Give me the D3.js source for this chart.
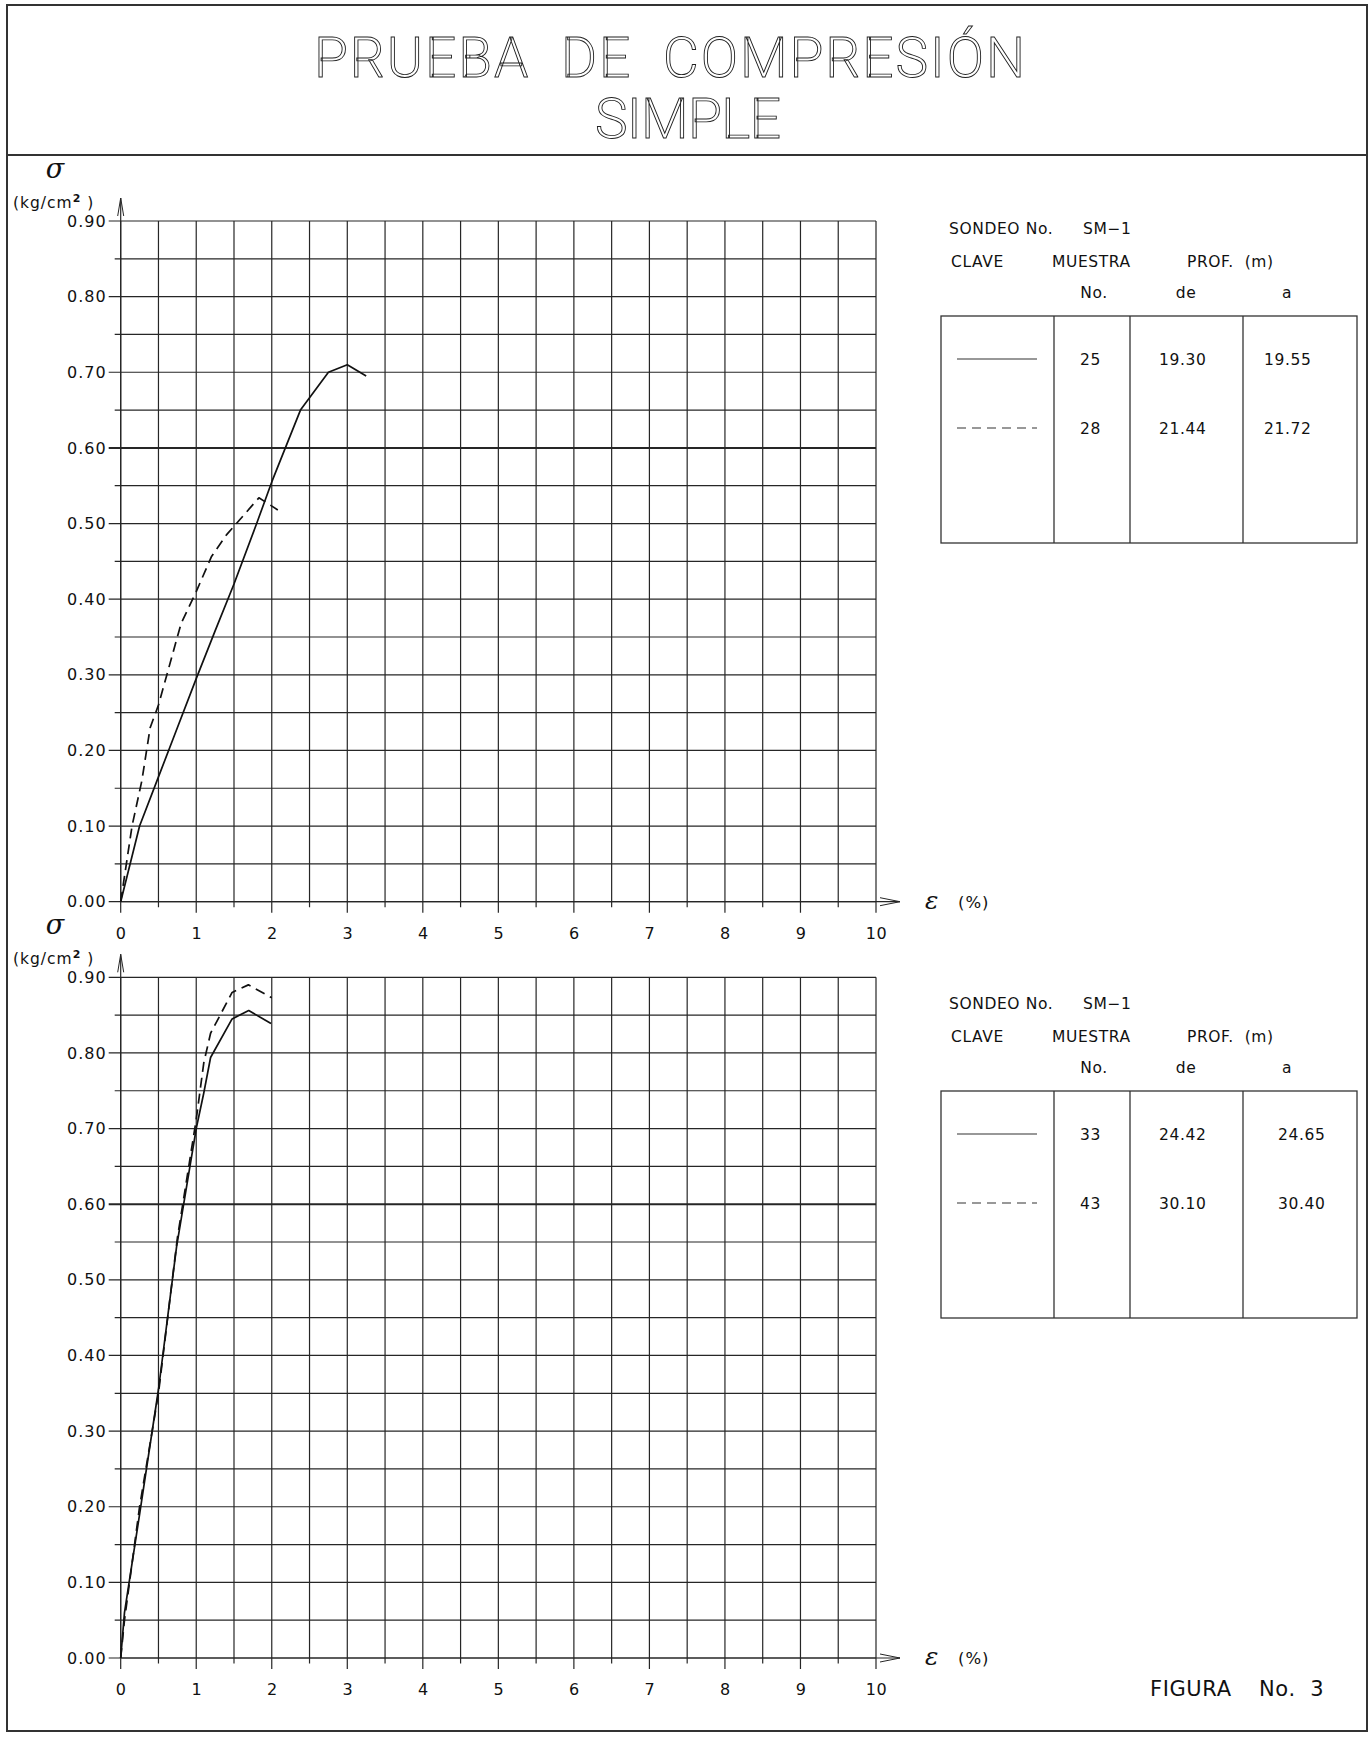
<!DOCTYPE html>
<html>
<head>
<meta charset="utf-8">
<script src="https://cdn.jsdelivr.net/npm/d3@7/dist/d3.min.js"></script>
<style>
  html, body { margin: 0; padding: 0; background: #fff; }
  svg { display: block; }
  text { white-space: pre; }
  .lbl { font-family: "DejaVu Sans", sans-serif; fill: #111; }
</style>
</head>
<body>
<svg id="chart" width="1372" height="1737"></svg>
<script>
// ---- Data -------------------------------------------------------------
const titleLines = ["PRUEBA  DE  COMPRESIÓN", "SIMPLE"];

const strainTicks = [0, 1, 2, 3, 4, 5, 6, 7, 8, 9, 10];
const stressTicks = [0, 0.1, 0.2, 0.3, 0.4, 0.5, 0.6, 0.7, 0.8, 0.9];

// Sample 25 (19.30 - 19.55 m): [strain %, stress kg/cm2]
const sample25 = [[0, 0], [0.25, 0.10], [0.5, 0.165], [0.75, 0.23], [1.0, 0.295],
  [1.25, 0.358], [1.5, 0.42], [1.8, 0.50], [2.0, 0.555], [2.18, 0.60],
  [2.38, 0.65], [2.75, 0.70], [3.0, 0.71], [3.25, 0.695]];
// Sample 28 (21.44 - 21.72 m)
const sample28 = [[0, 0], [0.15, 0.10], [0.28, 0.16], [0.39, 0.23], [0.5, 0.26],
  [0.8, 0.368], [1.0, 0.41], [1.2, 0.456], [1.4, 0.485], [1.83, 0.534], [2.08, 0.518]];
// Sample 33 (24.42 - 24.65 m)
const sample33 = [[0, 0], [0.05, 0.06], [0.25, 0.19], [0.5, 0.355], [0.74, 0.544],
  [1.0, 0.70], [1.1, 0.747], [1.19, 0.794], [1.475, 0.845], [1.695, 0.856], [1.99, 0.839]];
// Sample 43 (30.10 - 30.40 m)
const sample43 = [[0, 0], [0.05, 0.05], [0.25, 0.20], [0.5, 0.35], [0.75, 0.555],
  [1.0, 0.712], [1.1, 0.787], [1.19, 0.826], [1.475, 0.88], [1.69, 0.89], [2.0, 0.873]];

const boring = "SM−1";
const tableTopRows = [
  { series: sample25, dashed: false, muestra: "25", de: "19.30", a: "19.55" },
  { series: sample28, dashed: true,  muestra: "28", de: "21.44", a: "21.72" }
];
const tableBottomRows = [
  { series: sample33, dashed: false, muestra: "33", de: "24.42", a: "24.65" },
  { series: sample43, dashed: true,  muestra: "43", de: "30.10", a: "30.40" }
];

// ---- Drawing ----------------------------------------------------------
const svg = d3.select("#chart");
const ink = "#111";
const gridInk = "#262626";

// sheet frame and title block
svg.append("rect").attr("x", 7).attr("y", 5).attr("width", 1360).attr("height", 1726)
  .attr("fill", "#fff").attr("stroke", "#333").attr("stroke-width", 2);
svg.append("line").attr("x1", 7).attr("x2", 1367).attr("y1", 155).attr("y2", 155)
  .attr("stroke", "#333").attr("stroke-width", 2);

const titleSpec = [
  { text: titleLines[0], x: 314, y: 77, len: 711 },
  { text: titleLines[1], x: 595, y: 138, len: 186 }
];
titleSpec.forEach(t => {
  svg.append("text")
    .attr("x", t.x).attr("y", t.y)
    .attr("textLength", t.len).attr("lengthAdjust", "spacing")
    .attr("font-family", "Roboto, 'DejaVu Sans', sans-serif")
    .attr("font-weight", 300)
    .attr("font-size", 55)
    .attr("fill", "#fff").attr("stroke", "#222").attr("stroke-width", 0.9)
    .text(t.text);
});

const x = d3.scaleLinear().domain([0, 10]).range([120.7, 876]);

function drawPanel(y0, y90, seriesRows, boxTop) {
  const y = d3.scaleLinear().domain([0, 0.9]).range([y0, y90]);
  const g = svg.append("g");

  // grid: half-unit strain lines, 0.05 stress lines
  const vLines = d3.range(0, 10.001, 0.5);
  const hLines = d3.range(0, 0.9001, 0.05);
  g.selectAll(".vg").data(vLines).join("line")
    .attr("x1", d => x(d)).attr("x2", d => x(d))
    .attr("y1", y(0.9)).attr("y2", d => y(0) + (Math.abs(d - Math.round(d)) < 1e-6 ? 11 : 5.5))
    .attr("stroke", gridInk).attr("stroke-width", 1.2);
  g.selectAll(".hg").data(hLines).join("line")
    .attr("x1", d => x(0) - (Math.abs(d * 10 - Math.round(d * 10)) < 1e-6 ? 12 : 6))
    .attr("x2", x(10))
    .attr("y1", d => y(d)).attr("y2", d => y(d))
    .attr("stroke", gridInk)
    .attr("stroke-width", d => Math.abs(d - 0.6) < 1e-6 ? 2 : 1.2);

  // axis labels via d3 axes
  const yAxis = d3.axisLeft(y).tickValues(stressTicks).tickFormat(d3.format(".2f"))
    .tickSize(0).tickPadding(14);
  const ya = g.append("g").attr("transform", `translate(${x(0)},0)`).call(yAxis);
  ya.select(".domain").remove();
  ya.selectAll("text").attr("font-family", "DejaVu Sans, sans-serif")
    .attr("font-size", 16).attr("letter-spacing", 1).attr("fill", ink);

  const xAxis = d3.axisBottom(x).tickValues(strainTicks).tickFormat(d3.format("d"))
    .tickSize(0).tickPadding(26);
  const xa = g.append("g").attr("transform", `translate(0,${y0})`).call(xAxis);
  xa.select(".domain").remove();
  xa.selectAll("text").attr("font-family", "DejaVu Sans, sans-serif")
    .attr("font-size", 16).attr("letter-spacing", 0.5).attr("fill", ink);

  // axis arrows
  const tipY = y(0.9) - 23;
  g.append("line").attr("x1", x(0)).attr("x2", x(0)).attr("y1", y(0)).attr("y2", tipY)
    .attr("stroke", gridInk).attr("stroke-width", 1.2);
  g.append("path").attr("d", `M${x(0) - 3},${tipY + 18} L${x(0)},${tipY} L${x(0) + 3},${tipY + 18}`)
    .attr("fill", "none").attr("stroke", gridInk).attr("stroke-width", 1);
  const tipX = 900;
  g.append("line").attr("x1", x(0)).attr("x2", tipX).attr("y1", y(0)).attr("y2", y(0))
    .attr("stroke", gridInk).attr("stroke-width", 1.2);
  g.append("path").attr("d", `M${tipX - 20},${y(0) - 4} L${tipX},${y(0)} L${tipX - 20},${y(0) + 4}`)
    .attr("fill", "none").attr("stroke", gridInk).attr("stroke-width", 1);

  // axis titles
  g.append("text").attr("x", 55).attr("y", y(0.9) - 43).attr("text-anchor", "middle")
    .attr("font-family", "'DejaVu Serif', serif").attr("font-style", "italic")
    .attr("font-size", 27).attr("fill", ink).text("σ");
  const unit = g.append("text").attr("x", 13).attr("y", y(0.9) - 13)
    .attr("font-family", "DejaVu Sans, sans-serif").attr("font-size", 15.5)
    .attr("letter-spacing", 1).attr("fill", ink);
  unit.append("tspan").text("(kg/cm");
  unit.append("tspan").attr("font-size", 11).attr("font-weight", "bold").attr("dy", -6).text("2");
  unit.append("tspan").attr("dy", 6).text(" )");
  g.append("text").attr("x", 925).attr("y", y(0) + 7)
    .attr("font-family", "'DejaVu Serif', serif").attr("font-style", "italic")
    .attr("font-size", 25).attr("fill", ink).text("ε");
  g.append("text").attr("x", 958).attr("y", y(0) + 6)
    .attr("font-family", "DejaVu Sans, sans-serif").attr("font-size", 16.5)
    .attr("letter-spacing", 1).attr("fill", ink).text("(%)");

  // curves
  const line = d3.line().x(d => x(d[0])).y(d => y(d[1]));
  seriesRows.forEach(r => {
    g.append("path").attr("d", line(r.series))
      .attr("fill", "none").attr("stroke", "#111").attr("stroke-width", 1.7)
      .attr("stroke-linejoin", "round")
      .attr("stroke-dasharray", r.dashed ? "10,6" : null);
  });

  // legend table
  const t = svg.append("g");
  const txt = (tx, ty, s, anchor) => t.append("text").attr("class", "lbl")
    .attr("x", tx).attr("y", ty).attr("font-size", 15.5).attr("letter-spacing", 0.6)
    .attr("text-anchor", anchor || "start").text(s);
  txt(949, boxTop - 82, "SONDEO No.");
  txt(1083, boxTop - 82, boring);
  txt(951, boxTop - 49, "CLAVE");
  txt(1052, boxTop - 49, "MUESTRA");
  txt(1187, boxTop - 49, "PROF.  (m)");
  txt(1094, boxTop - 18, "No.", "middle");
  txt(1186, boxTop - 18, "de", "middle");
  txt(1287, boxTop - 18, "a", "middle");

  const boxH = 227;
  t.append("rect").attr("x", 941).attr("y", boxTop).attr("width", 416).attr("height", boxH)
    .attr("fill", "none").attr("stroke", "#333").attr("stroke-width", 1.3);
  [1054, 1130, 1243].forEach(cx => t.append("line")
    .attr("x1", cx).attr("x2", cx).attr("y1", boxTop).attr("y2", boxTop + boxH)
    .attr("stroke", "#333").attr("stroke-width", 1.3));

  seriesRows.forEach((r, i) => {
    const ry = boxTop + (i === 0 ? 43 : 112);
    t.append("line").attr("x1", 957).attr("x2", 1037).attr("y1", ry).attr("y2", ry)
      .attr("stroke", "#333").attr("stroke-width", 1.1)
      .attr("stroke-dasharray", r.dashed ? "9,6" : null);
    const cy = ry + 6;
    txt(1080, cy, r.muestra);
    txt(1159, cy, r.de);
    txt(boxTop < 600 ? 1264 : 1278, cy, r.a);
  });
}

drawPanel(901.7, 221, tableTopRows, 316);
drawPanel(1658, 977.3, tableBottomRows, 1091);

svg.append("text").attr("class", "lbl").attr("x", 1150).attr("y", 1696)
  .attr("font-size", 21).attr("letter-spacing", 0.6).text("FIGURA");
svg.append("text").attr("class", "lbl").attr("x", 1259).attr("y", 1696)
  .attr("font-size", 21).attr("letter-spacing", 0.6).text("No.  3");
</script>
</body>
</html>
